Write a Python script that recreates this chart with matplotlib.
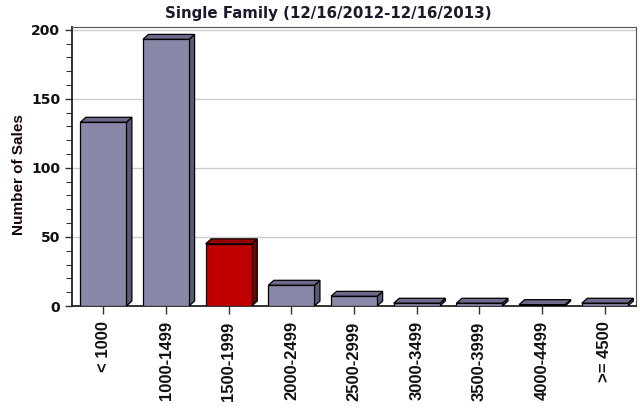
import matplotlib.pyplot as plt
from matplotlib.patches import Polygon, Rectangle
from matplotlib.ticker import MultipleLocator

# price ranges and sales counts
categories = ['< 1000', '1000-1499', '1500-1999', '2000-2499', '2500-2999',
              '3000-3499', '3500-3999', '4000-4499', '>= 4500']
sales = [133, 193, 45, 15, 7, 2, 2, 1, 2]
highlight = '1500-1999'

front = '#8a88a8'
top_c = '#6c6a8a'
side_c = '#5a5876'
red_front = '#c00000'
red_top = '#9a0000'
red_side = '#760000'

fig = plt.figure(figsize=(6.4, 4.08), dpi=100)
ax = fig.add_axes([0.1125, 0.25, 0.8815, 0.684])

w = 0.735
dx = 0.088  # depth in x (category units)
dy = 3.6    # depth in y (data units)

for i, (cat, v) in enumerate(zip(categories, sales)):
    if cat == highlight:
        fc, tc, sc = red_front, red_top, red_side
    else:
        fc, tc, sc = front, top_c, side_c
    x0 = i - w / 2
    x1 = i + w / 2
    ax.add_patch(Polygon([(x1, 0), (x1 + dx, dy), (x1 + dx, v + dy), (x1, v)],
                         closed=True, facecolor=sc, edgecolor='black', lw=0.9, zorder=3))
    ax.add_patch(Polygon([(x0, v), (x0 + dx, v + dy), (x1 + dx, v + dy), (x1, v)],
                         closed=True, facecolor=tc, edgecolor='black', lw=0.9, zorder=3))
    ax.add_patch(Rectangle((x0, 0), w, v, facecolor=fc, edgecolor='black', lw=0.9, zorder=4))

ax.set_xlim(-0.5, len(categories) - 0.5)
ax.set_ylim(0, 202)
ax.set_xticks(range(len(categories)))
ax.set_xticklabels(categories, rotation=90, fontsize=12, fontweight='bold',
                   family='Liberation Sans', color='#111111')
ax.set_yticks([0, 50, 100, 150, 200])
ax.yaxis.set_minor_locator(MultipleLocator(10))
for lbl in ax.get_yticklabels():
    lbl.set_fontsize(10)
    lbl.set_fontweight('bold')
    lbl.set_color('#111111')

ax.tick_params(axis='both', which='major', length=5, width=1, color='#333333')
ax.tick_params(axis='x', which='major', length=6, pad=5)
ax.tick_params(axis='y', which='minor', length=4, width=0.8, color='#333333')
ax.grid(axis='y', color='#cccccc', lw=1, zorder=0)
ax.set_axisbelow(True)

ax.spines['left'].set_color('#222222')
ax.spines['bottom'].set_color('#222222')
ax.spines['left'].set_linewidth(1.3)
ax.spines['bottom'].set_linewidth(1.3)
ax.spines['top'].set_color('#555555')
ax.spines['right'].set_color('#555555')

ax.set_ylabel('Number of Sales', fontsize=11, fontweight='bold', family='Liberation Sans',
              color='#1a0505')
ax.yaxis.set_label_coords(-0.082, 0.47)
fig.text(0.513, 0.968, 'Single Family (12/16/2012-12/16/2013)', ha='center', va='center',
         fontsize=10.8, fontweight='bold', color='#1a1a2a')

fig.savefig('out.png', dpi=100)
